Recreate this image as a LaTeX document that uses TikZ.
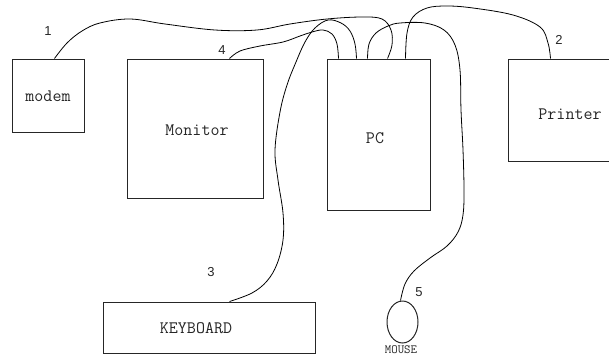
\documentclass[tikz,border=0pt]{standalone}
\usepackage{fontspec}
\usetikzlibrary{calc,shapes.geometric}
\newfontfamily\sansfnt{Liberation Sans}
\begin{document}
\begin{tikzpicture}[x=1pt,y=-1pt,
  box/.style={draw=black!85, line width=1pt, inner sep=0pt},
  cable/.style={draw=black, line width=0.8pt},
  lbl/.style={font=\ttfamily\fontsize{17.5}{17.5}\selectfont, text=black!85, inner sep=0pt},
  num/.style={font=\sansfnt\fontsize{13}{13}\selectfont, text=black!85, inner sep=0pt},
  small/.style={font=\ttfamily\fontsize{12.5}{12.5}\selectfont, text=black!85, inner sep=0pt}]
\useasboundingbox (0,0) rectangle (609,356);
\clip (0,0) rectangle (609,356);
% boxes
\node[box, minimum width=72pt, minimum height=73pt] (modem) at (48,95.5) {};
\node[box, minimum width=136pt, minimum height=139pt] (monitor) at (195,128.5) {};
\node[box, minimum width=103pt, minimum height=151pt] (pc) at (378.5,134.5) {};
\node[box, minimum width=124pt, minimum height=102pt] (printer) at (570,110) {};
\node[box, minimum width=212pt, minimum height=51pt] (kb) at (209,327.5) {};
\node[draw=black!85, line width=1pt, ellipse, minimum width=31pt, minimum height=42pt, inner sep=0pt] (mouse) at (402.5,322) {};
% texts
\node[lbl] (tmodem) at (48,96) {modem};
\node[lbl] (tmonitor) at (197,130) {Monitor};
\node[lbl] (tpc) at (375,138) {PC};
\node[lbl] (tprinter) at (570,114) {Printer};
\node[lbl] (tkb) at (196,328) {KEYBOARD};
\node[small] (tmouse) at (401,350) {MOUSE};
\node[num] (n1) at (48,31) {1};
\node[num] (n4) at (222,50) {4};
\node[num] (n2) at (559,40) {2};
\node[num] (n3) at (211,272) {3};
\node[num] (n5) at (419,292) {5};
% ports
\coordinate (pm) at ($(modem.north west)+(43,0)$);
\coordinate (pmon) at ($(monitor.north west)+(103,0)$);
\coordinate (pkb) at ($(kb.north west)+(127,0)$);
\coordinate (ppr) at ($(printer.north west)+(43,0)$);
\coordinate (pms) at ($(mouse.north)+(-2,0)$);
\coordinate (pc1) at ($(pc.north west)+(12,0)$);
\coordinate (pc2) at ($(pc.north west)+(30,0)$);
\coordinate (pc3) at ($(pc.north west)+(41,0)$);
\coordinate (pc4) at ($(pc.north west)+(61,0)$);
\coordinate (pc5) at ($(pc.north west)+(79,0)$);
% cables
\draw[cable] plot[smooth, tension=0.6] coordinates {(pm) (67,43) (82,31) (100,23) (130,19) (165,24) (215,30) (257,30) (290,24) (327,19) (362,17) (382,19) (391,30) (392,45) (pc4)};
\draw[cable] plot[smooth, tension=0.6] coordinates {(pmon) (240,51) (260,46) (283,42) (300,36) (312,32) (323,30) (332,34) (337,44) (pc1)};
\draw[cable] plot[smooth, tension=0.6] coordinates {(pkb) (252,293) (267,281) (277,264) (283,240) (283,213) (278,180) (275,150) (280,112) (287,85) (296,62) (305,42) (315,28) (328,20) (341,23) (350,31) (355,44) (pc2)};
\draw[cable] plot[smooth, tension=0.6] coordinates {(pc3) (369,44) (376,33) (388,26) (400,23) (425,23) (444,30) (455,45) (460,70) (461,110) (463,150) (464,190) (463,215) (458,232) (447,246) (430,258) (414,271) (405,284) (pms)};
\draw[cable] plot[smooth, tension=0.6] coordinates {(pc5) (407,33) (413,17) (427,8) (447,6) (473,8) (513,15) (540,27) (548,43) (ppr)};
\end{tikzpicture}
\end{document}
